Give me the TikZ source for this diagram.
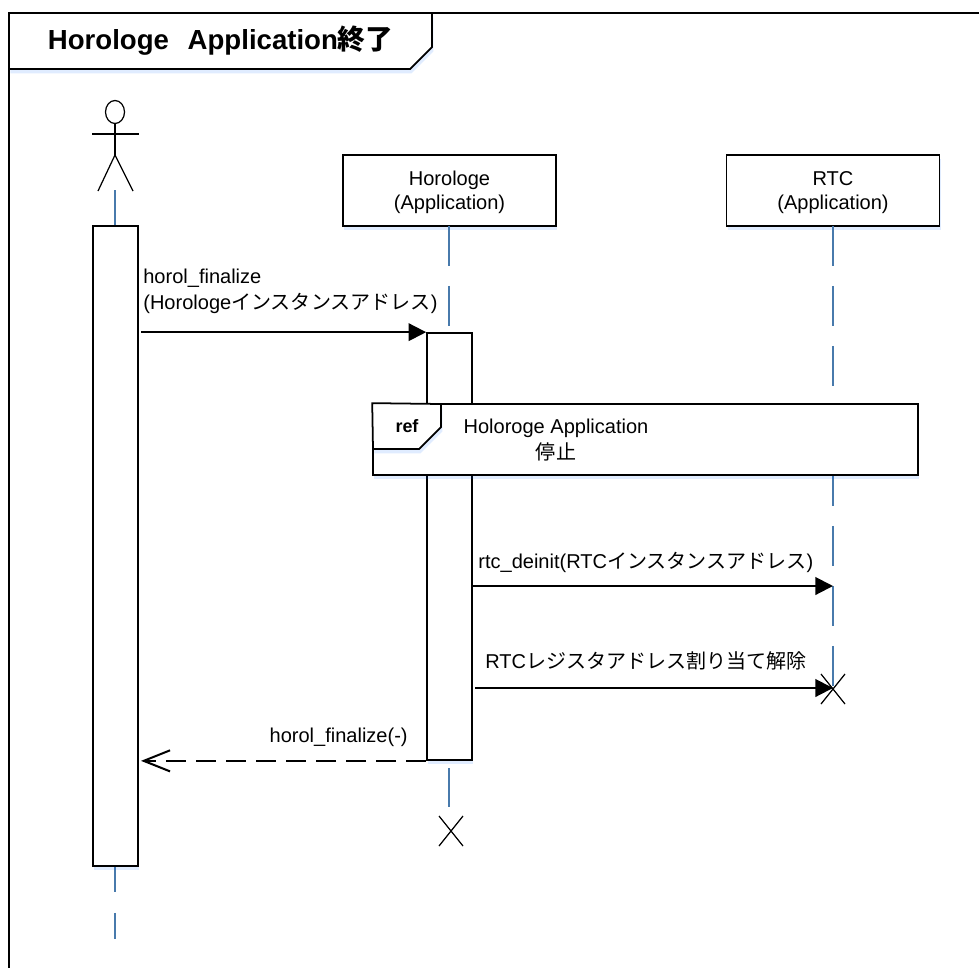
\documentclass[tikz,border=0pt]{standalone}
\usepackage{fontspec}
\setmainfont{Liberation Sans}
\newfontfamily\jpfont{Noto Sans CJK JP}
\usetikzlibrary{arrows.meta,shadows}

\definecolor{lineblue}{RGB}{72,122,172}

\tikzset{
    softshadow/.style={drop shadow={shadow xshift=0.8pt, shadow yshift=-2.5pt, fill=blue!60!cyan, opacity=0.12}},
    lifebox/.style={draw=black, fill=white, line width=1pt, minimum width=121.2pt, minimum height=40.4pt, align=center, font=\fontsize{11.4}{13.6}\selectfont, softshadow},
    activebar/.style={draw=black, fill=white, line width=1pt, minimum width=25.6pt, softshadow},
    lifeline/.style={draw=lineblue, line width=1.1pt, dash pattern=on 22.76pt off 11.38pt},
    msgtext/.style={font=\fontsize{11.4}{14.7}\selectfont, align=left, inner sep=0pt},
    callarrow/.style={line width=1.15pt, -{Triangle[length=10pt, width=10pt]}},
    backarrow/.style={line width=1.15pt, dash pattern=on 11.4pt off 5.7pt, -{Straight Barb[length=15pt, width=12pt, line width=1.15pt]}},
    crossmark/.style={line width=0.7pt}
}

\begin{document}
\begin{tikzpicture}[x=0.02cm, y=-0.02cm, line join=miter]

    % 1. Fix the size of the image
    \useasboundingbox (0,0) rectangle (979,967);
    \clip (0,0) rectangle (979,967);

    % 2. Outer frame and its title tab
    \draw[line width=1pt] (1000,13) -- (9,13) -- (9,1000);
    \draw[line width=1pt, fill=white, softshadow] (9,13) -- (432,13) -- (432,47) -- (410,69) -- (9,69) -- cycle;
    \node[font=\fontsize{15.7}{18}\selectfont\bfseries, inner sep=0pt] (title) at (220.5,40.5) {Horologe\hspace{0.68em}Application{\jpfont 終了}};

    % 3. Lifeline heads
    \draw[line width=0.7pt] (115,112) ellipse (9.5 and 11.5);
    \draw[line width=0.7pt] (115,123.5) -- (115,155);
    \draw[line width=0.7pt] (92,134) -- (139,134);
    \draw[line width=0.7pt] (98,191) -- (115,155) -- (133,191);
    \coordinate (actorfoot) at (115,190);
    \node[lifebox] (horologe) at (449.5,190.5) {\rule{0pt}{10.5pt}Horologe\\(Application)};
    \node[lifebox] (rtc) at (833,190.5) {\rule{0pt}{10.5pt}RTC\\(Application)};

    % 4. Coordinates at the ends of the lifelines
    \coordinate (actorend) at (115,939);
    \coordinate (horologetop) at (449,226);
    \coordinate (horologebar) at (449,333);
    \coordinate (horologelow) at (449,768);
    \coordinate (horologeend) at (449,807);
    \coordinate (rtctop) at (833,226);
    \coordinate (rtcend) at (833,688);
    \coordinate (actorlow) at (115,866);

    % 5. Lifelines, from back to front
    \draw[lifeline, dash pattern=] (actorfoot) -- (115,226);
    \draw[lifeline, dash pattern=on 14.8pt off 11.9pt] (actorlow) -- (actorend);
    \draw[lifeline] (horologetop) -- (horologebar);
    \draw[lifeline, dash pattern=] (horologelow) -- (horologeend);
    \draw[lifeline] (rtctop) -- (rtcend);

    % 6. Activation bars
    \node[activebar, minimum height=364.2pt] (actorbox) at (115.5,546) {};
    \node[activebar, minimum height=243pt] (horologebox) at (449.5,546.5) {};

    % 7. Reference frame
    \node[draw=black, fill=white, line width=1pt, minimum width=310.1pt, minimum height=40.4pt, softshadow] (refbox) at (645.5,439.5) {};
    \draw[line width=1pt, fill=white, softshadow] (refbox.north west) -- (441,404) -- (441,427) -- (419,449) -- (373,449) -- cycle;
    \node[font=\fontsize{10.2}{12}\selectfont\bfseries, inner sep=0pt] (reflabel) at (407,426.5) {ref};
    \node[font=\fontsize{11.4}{14.7}\selectfont, align=center, inner sep=0pt] (reftext) at (556,440) {Holoroge Application\\{\jpfont 停止}};

    % 8. Messages
    \coordinate (call1) at (horologebox.north west -| 141,0);
    \coordinate (call2) at (472,586);
    \coordinate (call2end) at (833,586);
    \coordinate (call3) at (475,688);
    \coordinate (back1) at (horologebox.south west -| 141,0);
    \draw[callarrow] (call1) -- (horologebox.north west);
    \draw[callarrow] (call2) -- (call2end);
    \draw[callarrow] (call3) -- (rtcend);
    \draw[backarrow] (horologebox.south west) -- (back1);

    % 9. Message labels
    \node[msgtext, anchor=west] (call1text) at (143,291) {horol\_finalize\\(Horologe{\jpfont インスタンスアドレス})};
    \node[msgtext, anchor=west] (call2text) at (478,562.5) {rtc\_deinit(RTC{\jpfont インスタンスアドレス})};
    \node[msgtext, anchor=west] (call3text) at (485,661) {RTC{\jpfont レジスタアドレス割り当て解除}};
    \node[msgtext, anchor=east] (back1text) at (408,737) {horol\_finalize(-)};

    % 10. End marks
    \draw[crossmark] (439,816) -- (463,846);
    \draw[crossmark] (463,816) -- (439,846);
    \draw[crossmark] (821,674) -- (845,704);
    \draw[crossmark] (845,674) -- (821,704);
\end{tikzpicture}
\end{document}
